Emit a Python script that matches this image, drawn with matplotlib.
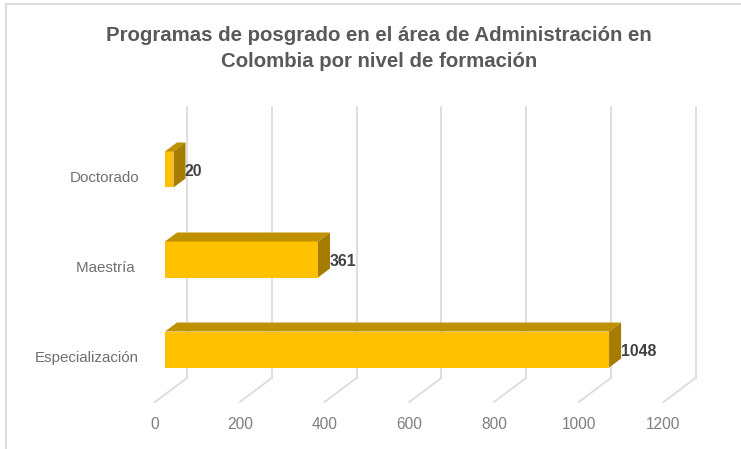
import matplotlib
matplotlib.use("Agg")
import matplotlib.pyplot as plt
from matplotlib.patches import Polygon
from matplotlib.transforms import Affine2D

# data
categories = ["Especialización", "Maestría ", "Doctorado"]
values = [1048, 361, 20]
ticks = [0, 200, 400, 600, 800, 1000, 1200]
title = "Programas de posgrado en el área de Administración en\nColombia por nivel de formación"

plt.rcParams["font.family"] = ["Liberation Sans", "DejaVu Sans"]

W, H = 741, 449
fig = plt.figure(figsize=(W / 100, H / 100), dpi=100)
# axes placed in pixels so the fake 3D offsets line up
left, right, top, bottom = 165, 673.5, 107, 402
ax = fig.add_axes([left / W, 1 - bottom / H, (right - left) / W, (bottom - top) / H])
ax.set_xlim(0, 1200)
ax.set_ylim(-0.583, 2.694)
ax.patch.set_alpha(0)
for s in ax.spines.values():
    s.set_visible(False)

grid_col = "#dcdcdc"
xt = ax.get_xaxis_transform()
floor_dy = 24 / (bottom - top)
for t in ticks:
    # wall line, then the floor line coming forward
    ax.plot([t, t], [floor_dy, 1], color=grid_col, lw=1.3, zorder=1, clip_on=False,
            transform=xt + Affine2D().translate(22, 0))
    a = xt.transform((t, 0))
    b = xt.transform((t, floor_dy))
    ax.plot([a[0] - 10, b[0] + 22], [a[1], b[1]], color=grid_col, lw=1.3, zorder=1,
            clip_on=False, transform=None)

# bars with top and side faces
bar_h = 0.4
dep_x = 12 / ((right - left) / 1200)
dep_y = 9 / 90
ypos = range(len(categories))
ax.barh(list(ypos), values, height=bar_h, color="#ffc000", zorder=3)
for y, v in zip(ypos, values):
    lo, hi = y - bar_h / 2, y + bar_h / 2
    ax.add_patch(Polygon([(0, hi), (v, hi), (v + dep_x, hi + dep_y), (dep_x, hi + dep_y)],
                         facecolor="#bf9000", edgecolor="none", zorder=3, clip_on=False))
    ax.add_patch(Polygon([(v, lo), (v, hi), (v + dep_x, hi + dep_y), (v + dep_x, lo + dep_y)],
                         facecolor="#a67c00", edgecolor="none", zorder=3, clip_on=False))
    ax.text(v, y, str(v), transform=ax.transData + Affine2D().translate(11.5, -2),
            ha="left", va="center", fontsize=11.4, fontweight="bold", color="#404040", zorder=4)

ax.set_xticks(ticks)
ax.set_yticks(list(ypos))
ax.set_yticklabels(categories)
ax.tick_params(axis="x", length=0, pad=10.5, labelsize=11.2, labelcolor="#7f7f7f")
ax.tick_params(axis="y", length=0, pad=18.7, labelsize=10.9, labelcolor="#6f6f6f")
for lab in ax.get_xticklabels():
    lab.set_transform(lab.get_transform() + Affine2D().translate(-10, 0))
for lab in ax.get_yticklabels():
    lab.set_transform(lab.get_transform() + Affine2D().translate(0, -7))

fig.text(379 / W, 1 - 48.5 / H, title, ha="center", va="center", fontsize=14.7, fontweight="bold",
         color="#595959", linespacing=1.5)

# chart frame, only top and left show
fig.add_artist(plt.Line2D([6 / W, 6 / W], [0, 1 - 4 / H], color=grid_col, lw=1.5))
fig.add_artist(plt.Line2D([6 / W, 1], [1 - 4 / H, 1 - 4 / H], color=grid_col, lw=1.5))

fig.savefig("out.png", dpi=100)
